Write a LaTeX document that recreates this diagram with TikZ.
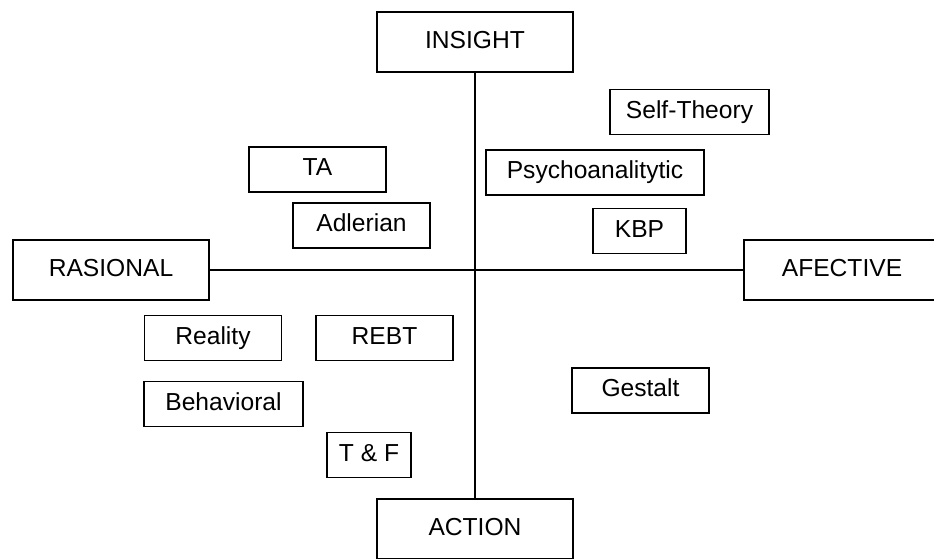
\documentclass[tikz,border=0pt]{standalone}
\usepackage{fontspec}
\setmainfont{Liberation Sans}
\tikzset{
  box/.style={draw, line width=0.6pt, inner sep=0pt, minimum height=0.9cm, minimum width=2.74cm, text height=0.716em, text depth=0pt, font=\fontsize{14}{16}\selectfont},
  pole/.style={box, minimum height=1.2cm, minimum width=3.92cm}
}
\begin{document}
\begin{tikzpicture}[line width=0.6pt]
\clip (0,0) rectangle (18.68,-11.18);
\useasboundingbox (0,0) rectangle (18.68,-11.18);

\node[pole] (insight) at (9.5,-0.84) {INSIGHT};
\node[pole] (action) at (9.5,-10.58) {ACTION};
\node[pole] (rasional) at (2.22,-5.4) {RASIONAL};
\node[pole] (afective) at (16.84,-5.4) {AFECTIVE};

\draw (insight) -- (action);
\draw (rasional) -- (afective);

\node[box, minimum width=3.18cm] (self) at (13.79,-2.24) {Self-Theory};
\node[box, minimum width=4.36cm] (psycho) at (11.9,-3.45) {Psychoanalitytic};
\node[box, minimum width=1.86cm] (kbp) at (12.79,-4.62) {KBP};
\node[box] (ta) at (6.35,-3.39) {TA};
\node[box] (adler) at (7.23,-4.51) {Adlerian};
\node[box] (reality) at (4.26,-6.76) {Reality};
\node[box] (rebt) at (7.69,-6.76) {REBT};
\node[box, minimum width=3.18cm] (behav) at (4.47,-8.08) {Behavioral};
\node[box] (gestalt) at (12.81,-7.81) {Gestalt};
\node[box, minimum width=1.68cm] (tf) at (7.38,-9.1) {T \& F};
\end{tikzpicture}
\end{document}
